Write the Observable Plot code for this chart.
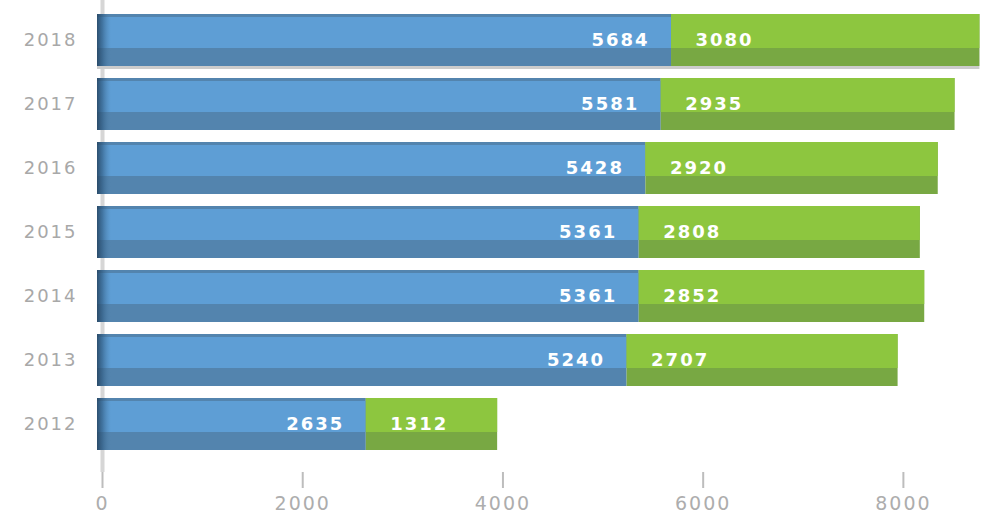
<!DOCTYPE html>
<html><head><meta charset="utf-8">
<script src="https://cdn.jsdelivr.net/npm/d3@7"></script>
<script src="https://cdn.jsdelivr.net/npm/@observablehq/plot@0.6"></script>
<style>body{margin:0;background:#fff}</style></head>
<body><div id="chart"></div>
<script>
const years = ["2018","2017","2016","2015","2014","2013","2012"];
const blueValues = [5684,5581,5428,5361,5361,5240,2635];
const greenValues = [3080,2935,2920,2808,2852,2707,1312];
const xTicks = [0,2000,4000,6000,8000];

const rows = years.map((y,i)=>({year:y, blue:blueValues[i], green:greenValues[i], total:blueValues[i]+greenValues[i]}));
const font = "'DejaVu Sans', Verdana, sans-serif";

const chart = Plot.plot({
  width:999, height:516, marginTop:0, marginBottom:44, marginLeft:102, marginRight:8,
  style:{fontFamily:font, background:"#fff", letterSpacing:"2px"},
  x:{domain:[0,8880], label:null},
  y:{domain:years, range:[0,463], padding:0.19, label:null},
  marks:[
    Plot.ruleX([0],{stroke:"#d6d6d6", strokeWidth:4}),
    Plot.barX(rows.filter(d=>d.year===years[0]),{x1:0, x2:"total", y:"year", fill:"#cccccc", insetBottom:-3, insetLeft:-5}),
    Plot.barX(rows,{x1:0, x2:"blue", y:"year", fill:"#5384ae", insetLeft:-5}),
    Plot.barX(rows,{x1:0, x2:"blue", y:"year", fill:"#5e9ed5", insetLeft:-5, insetTop:3, insetBottom:18}),
    Plot.barX(rows,{x1:0, x2:0, y:"year", fill:"url(#edgeGrad)", insetLeft:-5, insetRight:-9}),
    Plot.barX(rows,{x1:"blue", x2:"total", y:"year", fill:"#78a843"}),
    Plot.barX(rows,{x1:"blue", x2:"total", y:"year", fill:"#8dc63f", insetBottom:18}),
    Plot.text(rows,{x:"blue", y:"year", text:d=>String(d.blue), textAnchor:"end", dx:-22, dy:0, fill:"white", fontSize:18, fontWeight:"bold", fontFamily:font}),
    Plot.text(rows,{x:"blue", y:"year", text:d=>String(d.green), textAnchor:"start", dx:24, dy:0, fill:"white", fontSize:18, fontWeight:"bold", fontFamily:font}),
    Plot.axisX({ticks:xTicks, tickSize:16, tickPadding:8, tickFormat:d=>String(d), stroke:"#bdbdbd", strokeWidth:2, fill:"#adadad", fontSize:19, label:null}),
    Plot.axisY({tickSize:0, tickPadding:25, fill:"#a8a8a8", fontSize:18, label:null})
  ]
});
const svgns = "http://www.w3.org/2000/svg";
const defs = document.createElementNS(svgns,"defs");
defs.innerHTML = '<linearGradient id="edgeGrad" x1="0" x2="1" y1="0" y2="0"><stop offset="0" stop-color="#23415d" stop-opacity="0.85"/><stop offset="0.4" stop-color="#2f5a80" stop-opacity="0.6"/><stop offset="1" stop-color="#4f82ad" stop-opacity="0"/></linearGradient>';
chart.insertBefore(defs, chart.firstChild);
document.getElementById("chart").appendChild(chart);
</script>
</body></html>
